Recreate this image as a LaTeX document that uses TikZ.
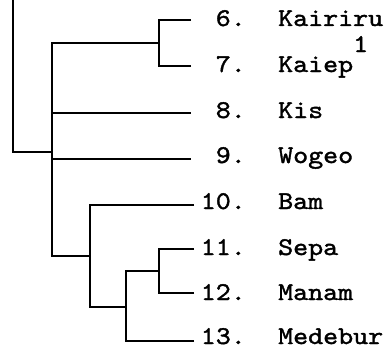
\documentclass[tikz,border=0pt]{standalone}
\usepackage{fontspec}
\newfontfamily\twf{lmmono10-regular.otf}[FakeBold=1.5,FakeStretch=1.12]
\newcommand{\tw}[1]{{\twf\fontsize{25.5}{30}\selectfont #1}}
\begin{document}
\begin{tikzpicture}[x=1pt,y=-1pt,
  br/.style={line width=2pt, line join=miter, line cap=butt},
  root/.style={line width=2.6pt, line join=miter, line cap=butt},
  num/.style={anchor=base east, inner sep=0pt},
  lang/.style={anchor=base west, inner sep=0pt}]
\useasboundingbox (0,0) rectangle (388,353);
% junctions
\coordinate (top) at (13,-3);
\coordinate (nA) at (52,152);
\coordinate (j67) at (159,43);
\coordinate (jB) at (90,256);
\coordinate (jC) at (126,307);
\coordinate (jD) at (159,271);
% leaf ends
\coordinate (e6) at (191,20);
\coordinate (e7) at (191,66);
\coordinate (e8) at (191,113);
\coordinate (e9) at (191,159);
\coordinate (e10) at (194,205);
\coordinate (e11) at (194,249);
\coordinate (e12) at (194,293);
\coordinate (e13) at (194,341);
% branches
\draw[root] (top) |- (nA);
\draw[br] (j67) -| (nA);
\draw[br] (jB) -| (nA);
\draw[br] (e6) -| (j67);
\draw[br] (e7) -| (j67);
\draw[br] (nA |- e8) -- (e8);
\draw[br] (nA |- e9) -- (e9);
\draw[br] (e10) -| (jB);
\draw[br] (jC) -| (jB);
\draw[br] (jD) -| (jC);
\draw[br] (e13) -| (jC);
\draw[br] (e11) -| (jD);
\draw[br] (e12) -| (jD);
% labels
\node[num] (n6) at (246,26) {\tw{6.}};
\node[lang] (l6) at (278,26) {\tw{Kairiru}};
\node[num] (n7) at (246,72) {\tw{7.}};
\node[lang] (l7) at (278,72) {\tw{Kaiep\raisebox{20pt}{1}}};
\node[num] (n8) at (246,118) {\tw{8.}};
\node[lang] (l8) at (278,118) {\tw{Kis}};
\node[num] (n9) at (246,163) {\tw{9.}};
\node[lang] (l9) at (278,163) {\tw{Wogeo}};
\node[num] (n10) at (246,209) {\tw{10.}};
\node[lang] (l10) at (278,209) {\tw{Bam}};
\node[num] (n11) at (246,255) {\tw{11.}};
\node[lang] (l11) at (278,255) {\tw{Sepa}};
\node[num] (n12) at (246,300) {\tw{12.}};
\node[lang] (l12) at (278,300) {\tw{Manam}};
\node[num] (n13) at (246,344) {\tw{13.}};
\node[lang] (l13) at (278,344) {\tw{Medebur}};
\end{tikzpicture}
\end{document}
